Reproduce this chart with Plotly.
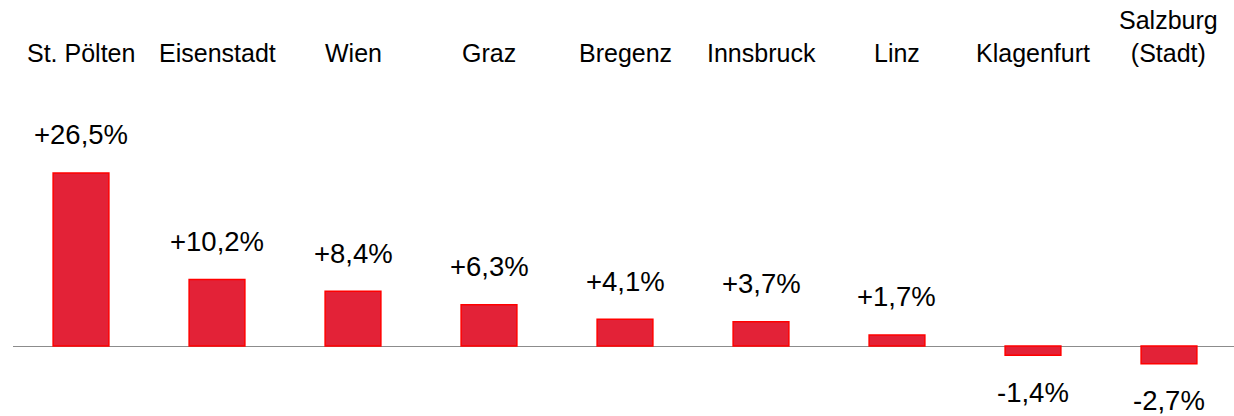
import plotly.graph_objects as go

categories = ["St. Pölten", "Eisenstadt", "Wien", "Graz", "Bregenz", "Innsbruck", "Linz", "Klagenfurt", "Salzburg<br>(Stadt)"]
values = [26.5, 10.2, 8.4, 6.3, 4.1, 3.7, 1.7, -1.4, -2.7]
labels = ["+26,5%", "+10,2%", "+8,4%", "+6,3%", "+4,1%", "+3,7%", "+1,7%", "-1,4%", "-2,7%"]

FONT = "Liberation Sans, Arial, sans-serif"

fig = go.Figure(go.Bar(
    x=list(range(len(categories))),
    y=values,
    width=0.41,
    marker=dict(color="#E32237", line=dict(color="#FF0000", width=1.5)),
    hoverinfo="skip",
))

annotations = []
for i, (cat, v, lab) in enumerate(zip(categories, values, labels)):
    annotations.append(dict(
        x=i, y=1, xref="x", yref="paper", text=cat, showarrow=False,
        yanchor="bottom", yshift=-69, font=dict(family=FONT, size=25, color="#000000"),
    ))
    annotations.append(dict(
        x=i, y=v, xref="x", yref="y", text=lab, showarrow=False,
        yanchor="middle", yshift=38 if v >= 0 else -37,
        font=dict(family=FONT, size=27.5, color="#000000"),
    ))

fig.update_layout(
    width=1234, height=416,
    margin=dict(l=13, r=0, t=0, b=0),
    paper_bgcolor="white", plot_bgcolor="white",
    showlegend=False,
    xaxis=dict(range=[-0.5, 8.478], showticklabels=False, showgrid=False, zeroline=False, showline=False, ticks=""),
    yaxis=dict(range=[-10.72, 52.99], showticklabels=False, showgrid=False,
               zeroline=True, zerolinecolor="#8c8c8c", zerolinewidth=1, showline=False, ticks=""),
    annotations=annotations,
)

fig.write_html("out.html", config={"displayModeBar": False},
               post_script="document.body.style.margin='0';document.body.style.overflow='hidden';")
